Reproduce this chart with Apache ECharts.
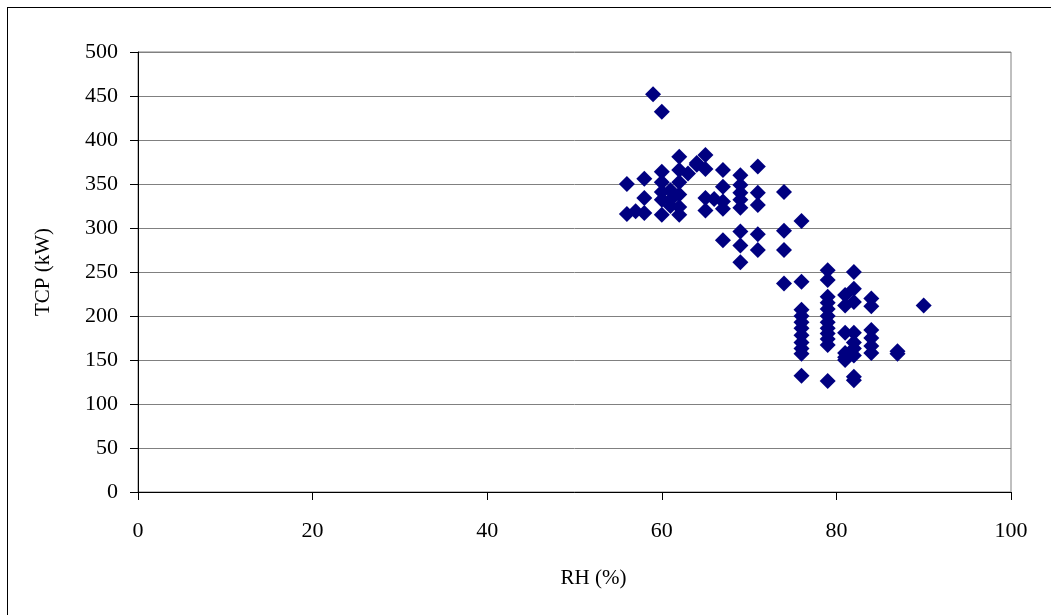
<!DOCTYPE html>
<html>
<head>
<meta charset="utf-8">
<script src="https://cdn.jsdelivr.net/npm/echarts@6/dist/echarts.min.js"></script>
<style>
	html, body { margin: 0; padding: 0; background: #fff; }
	#wrap { position: relative; width: 1051px; height: 615px; }
	#frame { position: absolute; left: 7px; top: 7px; right: -2px; bottom: -2px; border-left: 1px solid #000; border-top: 1px solid #000; }
	#chart { position: absolute; left: 0; top: 0; width: 1051px; height: 615px; }
</style>
</head>
<body>
<div id="wrap">
	<div id="frame"></div>
	<div id="chart"></div>
</div>
<script>
	// RH (%) readings and matching TCP (kW)
	var rh = [
		59, 60,
		56, 56, 57, 58, 58, 58,
		60, 60, 60, 60, 60,
		61, 61, 61,
		62, 62, 62, 62, 62, 62,
		63, 64, 64,
		65, 65, 65, 65, 66,
		67, 67, 67, 67, 67,
		69, 69, 69, 69, 69, 69, 69, 69,
		71, 71, 71, 71, 71,
		74, 74, 74, 74,
		76, 76, 76, 76, 76, 76, 76, 76, 76, 76, 76,
		79, 79, 79, 79, 79, 79, 79, 79, 79, 79, 79, 79,
		81, 81, 81, 81, 81, 81,
		82, 82, 82, 82, 82, 82, 82, 82, 82,
		84, 84, 84, 84, 84, 84,
		87, 87, 90
	];
	var tcp = [
		452, 432,
		350, 316, 319, 356, 334, 317,
		364, 352, 341, 332, 315,
		343, 332, 325,
		381, 366, 352, 338, 324, 315,
		362, 374, 372,
		383, 367, 334, 320, 333,
		366, 347, 322, 286, 330,
		360, 349, 340, 332, 323, 296, 280, 261,
		370, 340, 326, 293, 275,
		341, 297, 275, 237,
		308, 239, 207, 200, 193, 186, 178, 170, 163, 157, 132,
		252, 241, 222, 215, 208, 200, 193, 186, 180, 174, 167, 126,
		224, 212, 181, 158, 153, 150,
		250, 231, 216, 181, 170, 163, 155, 131, 127,
		220, 211, 184, 175, 166, 158,
		160, 157, 212
	];
	var yTicks = [0, 50, 100, 150, 200, 250, 300, 350, 400, 450, 500];
	var xTicks = [0, 20, 40, 60, 80, 100];

	var points = rh.map(function (v, i) { return [v, tcp[i]]; });

	var myChart = echarts.init(document.getElementById('chart'));

	var fontFam = '"Liberation Serif", "Times New Roman", serif';

	option = {
		animation: false,
		grid: {
			left: 138,
			right: 40,
			top: 52,
			bottom: 123,
			show: true,
			borderColor: '#808080',
			borderWidth: 1
		},
		xAxis: {
			type: 'value',
			min: xTicks[0],
			max: xTicks[xTicks.length - 1],
			interval: 20,
			name: 'RH (%)',
			nameLocation: 'middle',
			nameGap: 76,
			nameTextStyle: { fontFamily: fontFam, fontSize: 21, color: '#000', padding: [0, 0, 0, 38] },
			axisLine: { lineStyle: { color: '#000', width: 1 } },
			axisTick: { inside: false, length: 8, lineStyle: { color: '#000' } },
			axisLabel: { fontFamily: fontFam, fontSize: 22, color: '#000', margin: 28 },
			splitLine: { show: false }
		},
		yAxis: {
			type: 'value',
			min: yTicks[0],
			max: yTicks[yTicks.length - 1],
			interval: 50,
			name: 'TCP (kW)',
			nameLocation: 'middle',
			nameGap: 84,
			nameTextStyle: { fontFamily: fontFam, fontSize: 21, color: '#000' },
			axisLine: { show: true, lineStyle: { color: '#000', width: 1 } },
			axisTick: { show: true, inside: false, length: 8, lineStyle: { color: '#000' } },
			axisLabel: { fontFamily: fontFam, fontSize: 22, color: '#000', margin: 20 },
			splitLine: { show: true, lineStyle: { color: '#808080', width: 1 } }
		},
		series: [
			{
				name: 'TCP',
				type: 'scatter',
				symbol: 'diamond',
				symbolSize: 16,
				itemStyle: { color: '#000080', opacity: 1 },
				data: points
			}
		]
	};

	myChart.setOption(option);
</script>
</body>
</html>
